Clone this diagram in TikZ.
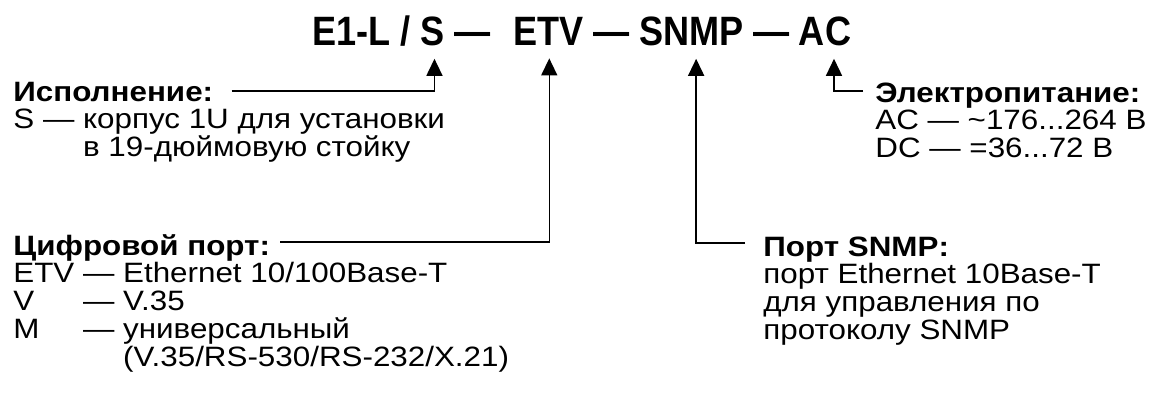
\documentclass[tikz,border=0pt]{standalone}
\usepackage{fontspec}
\setmainfont{Liberation Sans}
\newfontfamily\codefont{Liberation Sans}[FakeStretch=0.88]
\newfontfamily\labelfont{Liberation Sans}[FakeStretch=1.12]
\usetikzlibrary{arrows.meta, positioning, calc}

\begin{document}
\begin{tikzpicture}[
    x=0.5pt, y=0.5pt,
    code/.style={inner sep=0pt, font=\codefont\fontsize{20.5}{24}\selectfont\bfseries},
    head/.style={inner sep=0pt, anchor=base west, font=\labelfont\fontsize{14}{16}\selectfont\bfseries},
    body/.style={inner sep=0pt, anchor=base west, font=\labelfont\fontsize{14}{16}\selectfont},
    link/.style={line width=0.75pt, -{Triangle[width=8pt, length=8.5pt]}},
]
    \useasboundingbox (0,0) rectangle (1156,-412);
    % Model code
    \node[code, anchor=base west] (e1) at (312,-45) {E1-L /};
    \node[code, base right=4.5pt of e1] (s) {S};
    \node[code, base right=4.5pt of s] (d1) {—};
    \node[code, base right=11pt of d1] (etv) {ETV};
    \node[code, base right=4.5pt of etv] (d2) {—};
    \node[code, base right=4.5pt of d2] (snmp) {SNMP};
    \node[code, base right=4.5pt of snmp] (d3) {—};
    \node[code, base right=4.5pt of d3] (ac) {AC};
    % Headings
    \node[head] (isp) at (13,-101) {Исполнение:};
    \node[head] (dig) at (13,-255) {Цифровой порт:};
    \node[head] (pwr) at (875,-102) {Электропитание:};
    \node[head] (port) at (763,-256) {Порт SNMP:};
    % Text lines under the headings
    \foreach \t [count=\i] in {{S — корпус 1U для установки},
                               {\phantom{S — }в 19-дюймовую стойку}}
        \node[body] (isp-\i) at ($(isp.base west)+(0,-27.8*\i)$) {\t};
    \foreach \t [count=\i] in {{ETV — Ethernet 10/100Base-T},
                               {\rlap{V}\phantom{ETV} — V.35},
                               {\rlap{M}\phantom{ETV} — универсальный},
                               {\phantom{ETV — }(V.35/RS-530/RS-232/X.21)}}
        \node[body] (dig-\i) at ($(dig.base west)+(0,-27.8*\i)$) {\t};
    \foreach \t [count=\i] in {{AC — \textasciitilde 176{.}..264 В},
                               {DC — =36{.}..72 В}}
        \node[body] (pwr-\i) at ($(pwr.base west)+(0,-27.8*\i)$) {\t};
    \foreach \t [count=\i] in {{порт Ethernet 10Base-T},
                               {для управления по},
                               {протоколу SNMP}}
        \node[body] (port-\i) at ($(port.base west)+(0,-27.8*\i)$) {\t};
    % Arrows
    \draw[link] ($(isp.base east)+(18,10)$) -| ($(s.south)+(2,-13)$);
    \draw[link] ($(dig.base east)+(10,13)$) -| ($(etv.south)+(1,-13)$);
    \draw[link] ($(port.base west)+(-18,13)$) -| ($(snmp.south)+(5,-13)$);
    \draw[link] ($(pwr.base west)+(-12,11)$) -| ($(ac.south)+(9,-13)$);
\end{tikzpicture}
\end{document}
